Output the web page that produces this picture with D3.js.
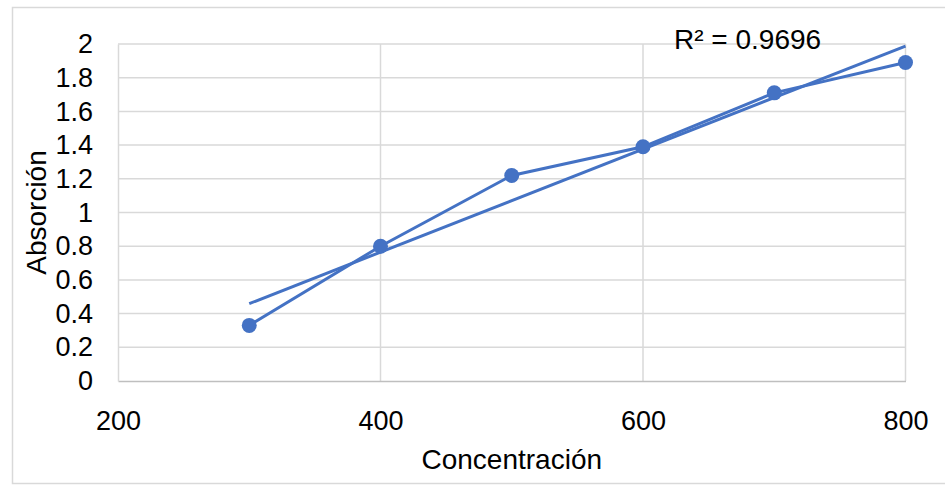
<!DOCTYPE html>
<html>
<head>
<meta charset="utf-8">
<script src="https://cdn.jsdelivr.net/npm/d3@7"></script>
<style>
  body { margin: 0; background: #fff; }
  text { font-family: "Liberation Sans", Arial, sans-serif; fill: #000; }
</style>
</head>
<body>
<div id="chart"></div>
<script>
// data
const concentration = [300, 400, 500, 600, 700, 800];
const absorption = [0.33, 0.80, 1.22, 1.39, 1.71, 1.89];
const xTicks = [200, 400, 600, 800];
const yTicks = [0, 0.2, 0.4, 0.6, 0.8, 1, 1.2, 1.4, 1.6, 1.8, 2];
const r2Label = 'R² = 0.9696';

const width = 945;
const height = 485;
const margin = { top: 44, right: 39.5, bottom: 104, left: 118 };
const blue = '#4472C4';

const svg = d3.select('#chart')
  .append('svg')
  .attr('width', width)
  .attr('height', height);

// chart border
svg.append('rect')
  .attr('x', 12.5)
  .attr('y', 7.5)
  .attr('width', 940)
  .attr('height', 476)
  .attr('fill', 'none')
  .attr('stroke', '#d9d9d9')
  .attr('stroke-width', 1.5);

const x = d3.scaleLinear()
  .domain([200, 800])
  .range([margin.left, width - margin.right]);

const y = d3.scaleLinear()
  .domain([0, 2])
  .range([height - margin.bottom, margin.top]);

// gridlines
svg.append('g')
  .selectAll('line')
  .data(yTicks.slice(1))
  .enter()
  .append('line')
  .attr('x1', x(200))
  .attr('x2', x(800))
  .attr('y1', d => y(d))
  .attr('y2', d => y(d))
  .attr('stroke', '#d9d9d9')
  .attr('stroke-width', 1.5);

svg.append('g')
  .selectAll('line')
  .data(xTicks.slice(1))
  .enter()
  .append('line')
  .attr('x1', d => x(d))
  .attr('x2', d => x(d))
  .attr('y1', y(0))
  .attr('y2', y(2))
  .attr('stroke', '#d9d9d9')
  .attr('stroke-width', 1.5);

// axes
const xAxis = svg.append('g')
  .attr('transform', `translate(0,${y(0)})`)
  .call(d3.axisBottom(x).tickValues(xTicks).tickSize(0).tickPadding(30).tickFormat(d3.format('d')));
xAxis.select('.domain').attr('stroke', '#bfbfbf').attr('stroke-width', 1.5);
xAxis.selectAll('text').attr('font-size', 27).style('font-family', '"Liberation Sans", Arial, sans-serif');

const yAxis = svg.append('g')
  .attr('transform', `translate(${x(200)},0)`)
  .call(d3.axisLeft(y).tickValues(yTicks).tickSize(0).tickPadding(25).tickFormat(d => d3.format('~g')(d)));
yAxis.select('.domain').attr('stroke', '#d9d9d9').attr('stroke-width', 1.5);
yAxis.selectAll('text').attr('font-size', 27).style('font-family', '"Liberation Sans", Arial, sans-serif');

// axis titles
svg.append('text')
  .attr('x', (x(200) + x(800)) / 2)
  .attr('y', 469)
  .attr('text-anchor', 'middle')
  .attr('font-size', 28)
  .text('Concentración');

svg.append('text')
  .attr('transform', `translate(46,${(y(0) + y(2)) / 2}) rotate(-90)`)
  .attr('text-anchor', 'middle')
  .attr('font-size', 28)
  .text('Absorción');

// linear trendline (least squares over the data)
const n = concentration.length;
const mx = d3.mean(concentration);
const my = d3.mean(absorption);
const sxy = d3.sum(concentration, (c, i) => (c - mx) * (absorption[i] - my));
const sxx = d3.sum(concentration, c => (c - mx) * (c - mx));
const slope = sxy / sxx;
const intercept = my - slope * mx;
const xMin = d3.min(concentration);
const xMax = d3.max(concentration);

svg.append('line')
  .attr('x1', x(xMin))
  .attr('y1', y(intercept + slope * xMin))
  .attr('x2', x(xMax))
  .attr('y2', y(intercept + slope * xMax))
  .attr('stroke', blue)
  .attr('stroke-width', 3);

// series line
const pts = concentration.map((c, i) => ({ x: c, y: absorption[i] }));
svg.append('path')
  .datum(pts)
  .attr('fill', 'none')
  .attr('stroke', blue)
  .attr('stroke-width', 3)
  .attr('d', d3.line().x(d => x(d.x)).y(d => y(d.y)));

// markers
svg.append('g')
  .selectAll('circle')
  .data(pts)
  .enter()
  .append('circle')
  .attr('cx', d => x(d.x))
  .attr('cy', d => y(d.y))
  .attr('r', 7.5)
  .attr('fill', blue);

// R² label
svg.append('text')
  .attr('x', 674)
  .attr('y', 49)
  .attr('font-size', 28)
  .text(r2Label);
</script>
</body>
</html>
